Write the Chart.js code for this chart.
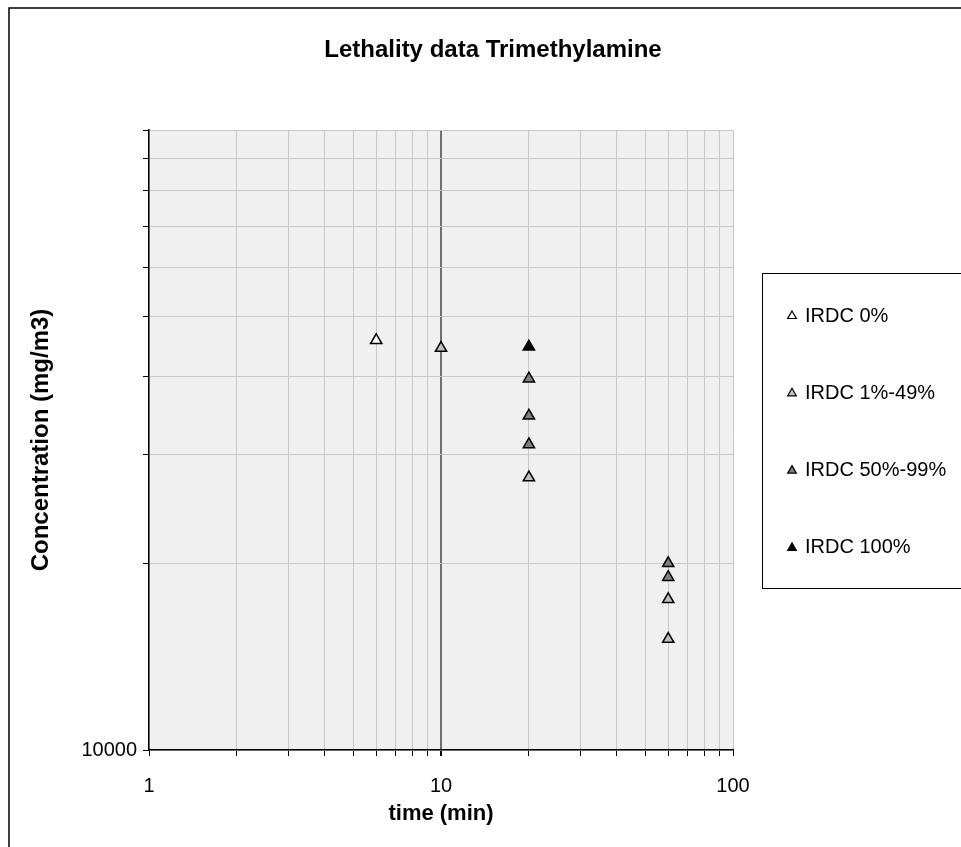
<!DOCTYPE html>
<html>
<head>
<meta charset="utf-8">
<script src="https://cdn.jsdelivr.net/npm/chart.js@4/dist/chart.umd.min.js"></script>
<style>
  html, body { margin: 0; padding: 0; background: #fff; }
  #wrap { width: 961px; height: 847px; }
</style>
</head>
<body>
<div id="wrap"><canvas id="chart" width="961" height="847"></canvas></div>
<script>
// Series names and fills
const seriesNames = ['IRDC 0%', 'IRDC 1%-49%', 'IRDC 50%-99%', 'IRDC 100%'];
const seriesFills = ['#ffffff', '#c0c0c0', '#808080', '#000000'];

// Data (time in min, concentration in mg/m3)
const time0 = [6];
const conc0 = [45800];
const time1 = [10, 20, 60, 60];
const conc1 = [44500, 27500, 17500, 15100];
const time2 = [20, 20, 20, 60, 60];
const conc2 = [39700, 34600, 31100, 20000, 19000];
const time3 = [20];
const conc3 = [44700];

// Tick positions
const xTicks = [1, 2, 3, 4, 5, 6, 7, 8, 9, 10, 20, 30, 40, 50, 60, 70, 80, 90, 100];
const xLabels = [1, 10, 100];
const yTicks = [10000, 20000, 30000, 40000, 50000, 60000, 70000, 80000, 90000, 100000];
const yLabels = [10000];

const chartTitle = 'Lethality data Trimethylamine';
const fontFamily = 'Arial, "Liberation Sans", sans-serif';

const allTimes = [time0, time1, time2, time3];
const allConc = [conc0, conc1, conc2, conc3];

const datasets = seriesNames.map((name, i) => ({
    label: name,
    data: allTimes[i].map((t, j) => ({ x: t, y: allConc[i][j] })),
    pointStyle: 'triangle',
    pointRadius: 6.5,
    pointHoverRadius: 6.5,
    backgroundColor: seriesFills[i],
    borderColor: '#000000',
    borderWidth: 1.5,
    showLine: false
}));

// Fundo cinza da área do gráfico, moldura externa e título
const backgroundPlugin = {
    id: 'background',
    beforeDraw(chart) {
        const { ctx, chartArea } = chart;
        ctx.save();
        ctx.fillStyle = '#f0f0f0';
        ctx.fillRect(chartArea.left, chartArea.top, chartArea.right - chartArea.left, chartArea.bottom - chartArea.top);
        ctx.strokeStyle = '#000000';
        ctx.lineWidth = 1.5;
        ctx.beginPath();
        ctx.moveTo(9, 900);
        ctx.lineTo(9, 8);
        ctx.lineTo(1000, 8);
        ctx.stroke();

        ctx.fillStyle = '#000000';
        ctx.font = 'bold 24px ' + fontFamily;
        ctx.textAlign = 'center';
        ctx.textBaseline = 'alphabetic';
        ctx.fillText(chartTitle, 493, 57);
        ctx.restore();
    }
};

// Legenda desenhada à mão, em caixa
const legendPlugin = {
    id: 'boxLegend',
    afterDraw(chart) {
        const { ctx } = chart;
        const boxLeft = 762, boxTop = 273, boxBottom = 588;
        ctx.save();
        ctx.fillStyle = '#ffffff';
        ctx.fillRect(boxLeft, boxTop, 300, boxBottom - boxTop);
        ctx.strokeStyle = '#000000';
        ctx.lineWidth = 1;
        ctx.strokeRect(boxLeft + 0.5, boxTop + 0.5, 300, boxBottom - boxTop);
        ctx.font = '20px ' + fontFamily;
        ctx.textBaseline = 'middle';
        ctx.textAlign = 'left';
        chart.data.datasets.forEach((ds, i) => {
            const y = 315 + i * 77.3;
            ctx.fillStyle = ds.backgroundColor;
            ctx.strokeStyle = '#000000';
            ctx.lineWidth = 1.2;
            Chart.helpers.drawPoint(ctx, {
                pointStyle: 'triangle',
                radius: 5,
                borderWidth: 1.2,
                rotation: 0
            }, 792, y + 1);
            ctx.fillStyle = '#000000';
            ctx.fillText(ds.label, 805, y + 1);
        });
        ctx.restore();
    }
};

const chart = new Chart(document.getElementById('chart'), {
    type: 'scatter',
    data: { datasets },
    options: {
        responsive: false,
        animation: false,
        devicePixelRatio: 1,
        layout: { padding: { left: 0, right: 228, top: 130, bottom: 0 } },
        plugins: {
            legend: { display: false },
            tooltip: { enabled: false },
            title: { display: false }
        },
        scales: {
            x: {
                type: 'logarithmic',
                min: 1,
                max: 100,
                afterBuildTicks: (scale) => { scale.ticks = xTicks.map(v => ({ value: v })); },
                afterFit: (scale) => { scale.height = 97; },
                ticks: {
                    autoSkip: false,
                    maxRotation: 0,
                    color: '#000000',
                    padding: 18,
                    font: { family: fontFamily, size: 20 },
                    callback: (v) => xLabels.includes(v) ? String(v) : ''
                },
                grid: {
                    color: (c) => c.tick && c.tick.value === 10 ? '#707070' : '#c8c8c8',
                    lineWidth: (c) => c.tick && c.tick.value === 10 ? 2 : 1,
                    tickColor: '#000000',
                    tickLength: 6
                },
                border: { color: '#000000', width: 1.5 },
                title: {
                    display: true,
                    text: 'time (min)',
                    color: '#000000',
                    font: { family: fontFamily, size: 22, weight: 'bold' },
                    padding: { top: 0, bottom: 20 }
                }
            },
            y: {
                type: 'logarithmic',
                min: 10000,
                max: 100000,
                afterBuildTicks: (scale) => { scale.ticks = yTicks.map(v => ({ value: v })); },
                afterFit: (scale) => { scale.width = 149; },
                ticks: {
                    autoSkip: false,
                    color: '#000000',
                    padding: 6,
                    font: { family: fontFamily, size: 20 },
                    callback: (v) => yLabels.includes(v) ? String(v) : ''
                },
                grid: {
                    color: '#c8c8c8',
                    lineWidth: 1,
                    tickColor: '#000000',
                    tickLength: 6
                },
                border: { color: '#000000', width: 1.5 },
                title: {
                    display: true,
                    text: 'Concentration (mg/m3)',
                    color: '#000000',
                    font: { family: fontFamily, size: 24, weight: 'bold' },
                    padding: { top: 27, bottom: 0 }
                }
            }
        }
    },
    plugins: [backgroundPlugin, legendPlugin]
});
</script>
</body>
</html>
